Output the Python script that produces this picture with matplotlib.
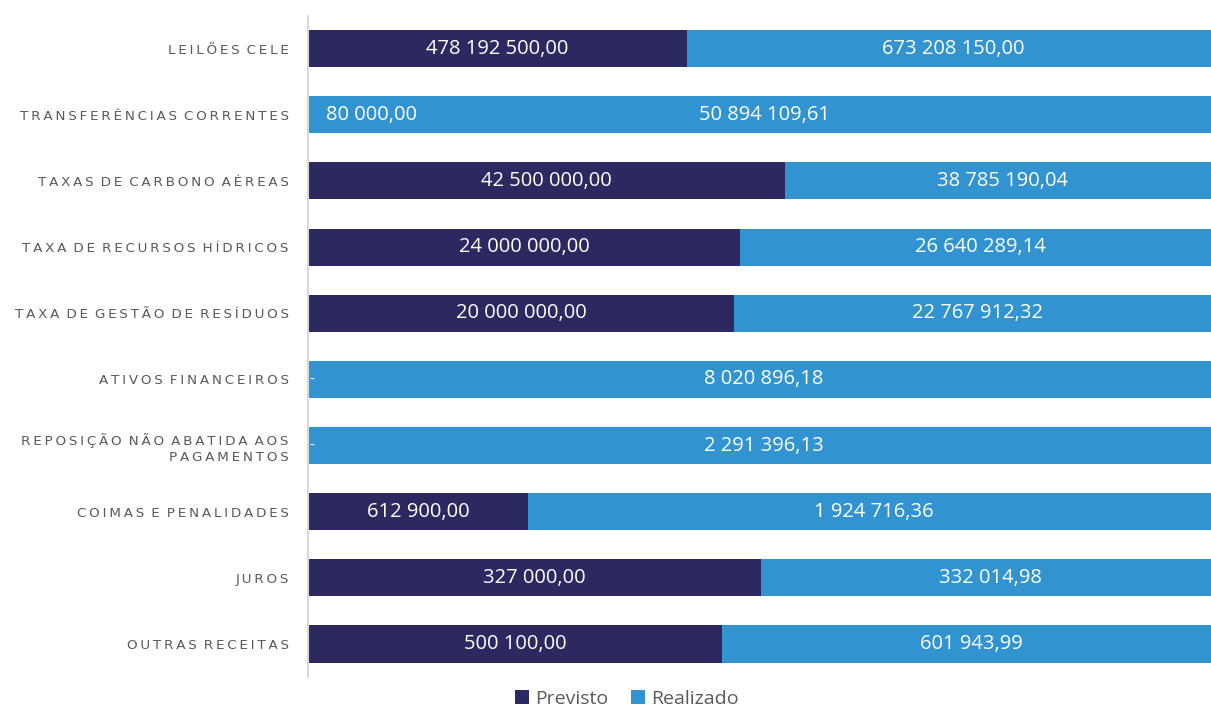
import numpy as np
import matplotlib.pyplot as plt

categorias = ["LEILÕES CELE", "TRANSFERÊNCIAS CORRENTES", "TAXAS DE CARBONO AÉREAS",
              "TAXA DE RECURSOS HÍDRICOS", "TAXA DE GESTÃO DE RESÍDUOS", "ATIVOS FINANCEIROS",
              "REPOSIÇÃO NÃO ABATIDA AOS\nPAGAMENTOS", "COIMAS E PENALIDADES", "JUROS", "OUTRAS RECEITAS"]
previsto = [478192500.00, 80000.00, 42500000.00, 24000000.00, 20000000.00, 0, 0,
            612900.00, 327000.00, 500100.00]
realizado = [673208150.00, 50894109.61, 38785190.04, 26640289.14, 22767912.32, 8020896.18,
             2291396.13, 1924716.36, 332014.98, 601943.99]

cor_prev = "#2B2960"
cor_real = "#3193D0"
cinza = "#595959"


def fmt(v):
    if v == 0:
        return "-"
    s = f"{v:,.2f}"
    return s.replace(",", " ").replace(".", ",")


def espacar(txt):
    # letter spacing like the original
    linhas = []
    for ln in txt.split("\n"):
        palavras = ["\u2009".join(w) for w in ln.split(" ")]
        linhas.append("\u2009 ".join(palavras))
    return "\n".join(linhas)


prev = np.array(previsto)
real = np.array(realizado)
tot = prev + real
p = prev / tot
r = real / tot
y = np.arange(len(categorias))

fig = plt.figure(figsize=(12.11, 7.09), dpi=100)
ax = fig.add_axes([308 / 1211, 0.045, 912 / 1211, 0.933])

ax.barh(y, p, height=0.56, color=cor_prev, label="Previsto")
ax.barh(y, r, left=p, height=0.56, color=cor_real, label="Realizado")

for i in range(len(y)):
    if 0 < p[i] < 0.05:
        ax.text(0.02, y[i], fmt(prev[i]), ha="left", va="center", color="white",
                fontsize=14.5, family="Open Sans")
    elif p[i] == 0:
        ax.text(0.002, y[i], "-", ha="left", va="center", color="white", fontsize=10)
    else:
        ax.text(p[i] / 2, y[i], fmt(prev[i]), ha="center", va="center", color="white",
                fontsize=14.5, family="Open Sans")
    ax.text(p[i] + r[i] / 2, y[i], fmt(real[i]), ha="center", va="center", color="white",
            fontsize=14.5, family="Open Sans")

ax.set_xlim(0, 1)
ax.set_ylim(len(y) - 0.5, -0.5)
ax.set_yticks(y)
ax.set_yticklabels([espacar(c) for c in categorias], fontsize=9.7, color=cinza,
                   family="DejaVu Sans", linespacing=1.3)
ax.tick_params(axis="y", length=0, pad=14)
ax.set_xticks([])
for s in ["top", "right", "bottom"]:
    ax.spines[s].set_visible(False)
ax.spines["left"].set_color("#D9D9D9")
ax.spines["left"].set_linewidth(1.5)

fig.legend(loc="center", bbox_to_anchor=(627 / 1211, 1 - 699 / 709), ncol=2, frameon=False,
           handlelength=0.7, handleheight=0.7, handletextpad=0.3,
           columnspacing=1.2, labelcolor=cinza, prop={"family": "Open Sans", "size": 14})

fig.savefig("out.png", dpi=100)
